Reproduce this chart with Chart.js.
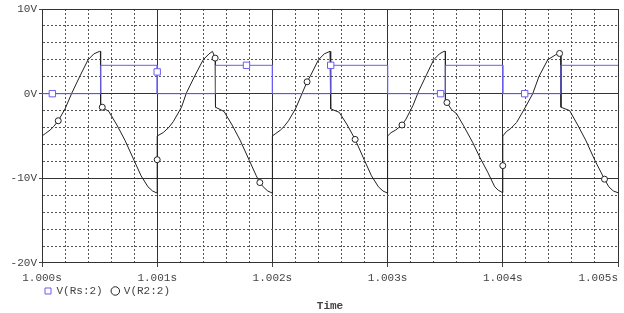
<!DOCTYPE html>
<html>
<head>
<meta charset="utf-8">
<script src="https://cdn.jsdelivr.net/npm/chart.js@4.4.0/dist/chart.umd.min.js"></script>
<style>
  html, body { margin: 0; padding: 0; background: #fff; }
  canvas { display: block; }
</style>
</head>
<body>
<canvas id="chart" width="624" height="313"></canvas>
<script>
// V(Rs:2) - square wave, time in seconds
const rsTime = [1.00000, 1.00009, 1.000509, 1.000509, 1.00100, 1.00100, 1.00100,
  1.001506, 1.001506, 1.001775, 1.00200, 1.00200,
  1.002506, 1.002506, 1.00300, 1.00300,
  1.00346, 1.003501, 1.003501, 1.00400, 1.00400,
  1.00419, 1.004504, 1.004504, 1.00500];
const rsVolt = [0, 0, 0, 3.35, 3.35, 2.57, 0,
  0, 3.35, 3.35, 3.35, 0,
  0, 3.35, 3.35, 0,
  0, 0, 3.35, 3.35, 0,
  0, 0, 3.35, 3.35];
const rsMarkers = [[1.00009, 0], [1.00100, 2.57], [1.001775, 3.35], [1.002506, 3.35], [1.00346, 0], [1.00419, 0]];

// V(R2:2)
const r2Time = [
  1.00000, 1.00000, 1.00003, 1.00007, 1.00010, 1.000141, 1.00020, 1.00026, 1.00033, 1.00040, 1.00045, 1.00050,
  1.000507, 1.000509, 1.000523, 1.00058, 1.00065, 1.00072, 1.00080, 1.00086, 1.00092, 1.00096, 1.00100,
  1.00100, 1.00100, 1.001052, 1.00110, 1.00114, 1.001211, 1.001254, 1.00133, 1.001399, 1.00145, 1.00148,
  1.001503, 1.001506, 1.00158, 1.00165, 1.00172, 1.00180, 1.00186, 1.001891, 1.00192, 1.00196, 1.00200,
  1.00200, 1.00203, 1.00207, 1.00210, 1.00214, 1.00220, 1.00226, 1.002301, 1.00233, 1.00240, 1.00245, 1.00250,
  1.002505, 1.002507, 1.00258, 1.00265, 1.002718, 1.00280, 1.00286, 1.00292, 1.00296, 1.00300,
  1.00300, 1.00303, 1.00307, 1.003125, 1.00316, 1.00322, 1.00327, 1.00334, 1.00340, 1.00345, 1.00349,
  1.003501, 1.003502, 1.003515, 1.003553, 1.00360, 1.00366, 1.00374, 1.00380, 1.00387, 1.00393, 1.00396, 1.00400,
  1.00400, 1.00400, 1.00403, 1.00407, 1.00412, 1.00420, 1.00426, 1.004313, 1.00439, 1.00446, 1.004493,
  1.004503, 1.004505, 1.00458, 1.00465, 1.00472, 1.00480, 1.004883, 1.00492, 1.00496, 1.00500];
const r2Volt = [
  -9.5, -5.0, -4.7, -4.3, -3.9, -3.2, -1.8, 0.1, 2.1, 4.0, 4.7, 5.0,
  5.0, -1.5, -1.6, -2.1, -3.7, -5.5, -7.9, -9.7, -11.0, -11.5, -11.75,
  -7.8, -5.0, -4.6, -4.0, -3.3, -1.6, 0.1, 2.2, 4.0, 4.7, 5.0,
  4.2, -1.6, -2.1, -3.7, -5.5, -7.9, -9.7, -10.5, -11.0, -11.5, -11.75,
  -5.0, -4.7, -4.3, -3.9, -3.2, -1.8, 0.1, 1.4, 2.1, 4.0, 4.7, 5.0,
  5.0, -1.8, -2.2, -3.7, -5.4, -7.9, -9.7, -11.0, -11.5, -11.75,
  -5.0, -4.6, -4.3, -3.7, -3.0, -1.4, 0.3, 2.3, 4.0, 4.7, 5.0,
  5.0, -0.9, -1.05, -1.85, -2.4, -3.8, -5.8, -7.5, -9.3, -11.0, -11.4, -11.7,
  -8.5, -5.0, -4.5, -4.1, -3.4, -1.5, 0.0, 2.0, 4.0, 4.6, 4.75,
  4.5, -1.6, -2.0, -3.7, -5.5, -7.9, -10.1, -11.0, -11.5, -11.7];
const r2Markers = [[1.000141, -3.2], [1.000523, -1.6], [1.00100, -7.8], [1.001503, 4.2], [1.001891, -10.5],
  [1.002301, 1.4], [1.002718, -5.4], [1.003125, -3.7], [1.003515, -1.05], [1.00400, -8.5],
  [1.004493, 4.75], [1.004883, -10.1]];

// axes
const timeMin = 1.000, timeMax = 1.005, timeStep = 0.0002;
const voltMin = -20, voltMax = 10, voltStep = 2;

const FONT = { family: '"Liberation Mono", "Courier New", monospace', size: 11 };
const TEXT = '#444';

const isMajorT = v => Math.abs(v * 1000 - Math.round(v * 1000)) < 1e-6;
const isMajorV = v => Math.abs(v % 10) < 1e-9;

const toPoints = (ts, vs) => ts.map((t, i) => ({ x: t, y: vs[i] }));
const markRadius = (marks, r) => c => {
  const p = c.raw;
  if (!p) return 0;
  return marks.some(m => Math.abs(m[0] - p.x) < 1e-9 && Math.abs(m[1] - p.y) < 1e-9) ? r : 0;
};

new Chart(document.getElementById('chart'), {
  type: 'line',
  data: {
    datasets: [
      {
        label: 'V(Rs:2) ',
        data: toPoints(rsTime, rsVolt),
        borderColor: '#6a5ef0',
        backgroundColor: '#fff',
        borderWidth: 1,
        pointStyle: 'rect',
        pointRadius: markRadius(rsMarkers, 4.5),
        pointBorderWidth: 1,
        tension: 0
      },
      {
        label: 'V(R2:2)',
        data: toPoints(r2Time, r2Volt),
        borderColor: '#222',
        backgroundColor: '#fff',
        borderWidth: 1,
        pointStyle: 'circle',
        pointRadius: markRadius(r2Markers, 3),
        pointBorderWidth: 1,
        tension: 0
      }
    ]
  },
  options: {
    responsive: false,
    animation: false,
    events: [],
    layout: { padding: { top: 9, right: 6, bottom: 0, left: 0 } },
    plugins: {
      tooltip: { enabled: false },
      legend: {
        position: 'bottom',
        align: 'start',
        fullSize: false,
        labels: {
          usePointStyle: true,
          boxWidth: 6,
          boxHeight: 6,
          padding: 3,
          font: FONT,
          color: TEXT
        }
      },
      title: {
        display: true,
        text: 'Time',
        position: 'bottom',
        fullSize: false,
        font: { family: FONT.family, size: 11, lineHeight: 0.01 },
        color: TEXT,
        padding: { top: 0, bottom: 6.4 }
      }
    },
    scales: {
      x: {
        type: 'linear',
        min: timeMin,
        max: timeMax,
        afterFit(scale) {
          scale.height = 19.5;
          scale.paddingLeft = 0;
          scale.paddingRight = 0;
        },
        ticks: {
          stepSize: timeStep,
          autoSkip: false,
          maxRotation: 0,
          minRotation: 0,
          padding: 5,
          font: FONT,
          color: TEXT,
          callback: (v, i, ticks) => isMajorT(v)
            ? v.toFixed(3) + 's' + (i === ticks.length - 1 ? '      ' : '')
            : ''
        },
        grid: {
          color: c => (c.tick && isMajorT(c.tick.value)) ? '#333' : '#555',
          lineWidth: 1,
          tickLength: 4,
          tickColor: c => (c.tick && isMajorT(c.tick.value)) ? '#444' : 'rgba(0,0,0,0)'
        },
        border: {
          color: '#333',
          dash: c => (c.tick && !isMajorT(c.tick.value)) ? [2, 2] : []
        }
      },
      y: {
        type: 'linear',
        min: voltMin,
        max: voltMax,
        afterFit(scale) {
          scale.width = 42;
          scale.paddingTop = 0;
          scale.paddingBottom = 0;
        },
        ticks: {
          stepSize: voltStep,
          autoSkip: false,
          padding: 2,
          font: FONT,
          color: TEXT,
          callback: v => isMajorV(v) ? v + 'V' : ''
        },
        grid: {
          color: c => (c.tick && isMajorV(c.tick.value)) ? '#333' : '#555',
          lineWidth: 1,
          tickLength: 3,
          tickColor: c => (c.tick && isMajorV(c.tick.value)) ? '#444' : 'rgba(0,0,0,0)'
        },
        border: {
          color: '#333',
          dash: c => (c.tick && !isMajorV(c.tick.value)) ? [2, 2] : []
        }
      }
    }
  }
});
</script>
</body>
</html>
